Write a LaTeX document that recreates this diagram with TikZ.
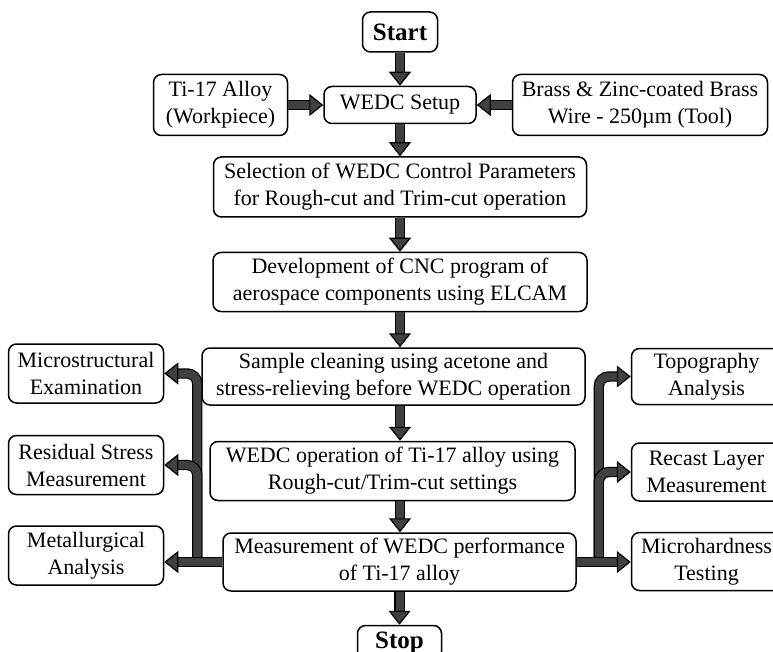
\documentclass[tikz,border=0pt]{standalone}
\usepackage{fontspec}
\setmainfont{Liberation Serif}
\usetikzlibrary{arrows.meta, positioning, calc}
\definecolor{arrowgray}{HTML}{404040}

\begin{document}
\begin{tikzpicture}[
    x=1pt, y=-1pt,
    node distance=33pt and 35pt,
    block/.style={rectangle, draw, rounded corners=8pt, line width=1.5pt, align=center, inner sep=2pt, font=\fontsize{22}{27}\selectfont},
    term/.style={block, font=\fontsize{25}{30}\selectfont\bfseries, minimum width=75pt, minimum height=40pt},
    side/.style={block, minimum width=155pt, minimum height=59pt},
    flow/.style={draw=black, line width=1.2pt, double=arrowgray, double distance=8pt, -{Triangle[width=22pt, length=14pt, line width=1.2pt, fill=arrowgray]}},
    fork/.style={coordinate}
]
\useasboundingbox (0,0) rectangle (773,652);
\clip (0,0) rectangle (773,652);

% Nodes
\node [term] (start) at (400,32) {Start};
\node [block, below=of start, minimum width=152pt, minimum height=37pt] (wedc-setup) {WEDC Setup};
\node [block, left=35pt of wedc-setup, minimum width=134pt, minimum height=61pt] (ti-alloy) {Ti-17 Alloy\\(Workpiece)};
\node [block, right=35pt of wedc-setup, minimum width=255pt, minimum height=61pt] (brass-wire) {Brass \& Zinc-coated Brass\\Wire - 250µm (Tool)};
\node [block, below=32pt of wedc-setup, minimum width=373pt, minimum height=60pt] (param-select) {Selection of WEDC Control Parameters\\for Rough-cut and Trim-cut operation};
\node [block, below=34pt of param-select, minimum width=374pt, minimum height=59pt] (cnc-program) {Development of CNC program of\\aerospace components using ELCAM};
\node [block, below=35pt of cnc-program, xshift=-6.5pt, minimum width=383pt, minimum height=57pt] (sample-clean) {Sample cleaning using acetone and\\stress-relieving before WEDC operation};
\node [block, below=35pt of sample-clean, xshift=-1pt, minimum width=365pt, minimum height=59pt] (wedc-op) {WEDC operation of Ti-17 alloy using\\Rough-cut/Trim-cut settings};
\node [block, below=31pt of wedc-op, xshift=7pt, minimum width=353pt, minimum height=58pt] (measure) {Measurement of WEDC performance\\of Ti-17 alloy};
\node [term, below=33pt of measure, minimum width=84pt, minimum height=34pt] (stop) {Stop};

\node [side, left=37pt of sample-clean, yshift=3pt] (micro-exam) {Microstructural\\Examination};
\node [side, below=31pt of micro-exam] (residual) {Residual Stress\\Measurement};
\node [side, below=30pt of residual] (metallurgy) {Metallurgical\\Analysis};
\node [side, right=45pt of sample-clean, minimum width=150pt, minimum height=56pt] (topography) {Topography\\Analysis};
\node [side, below=37pt of topography, minimum width=150pt, minimum height=58pt] (recast) {Recast Layer\\Measurement};
\node [side, below=30pt of recast, minimum width=150pt, minimum height=58pt] (microhardness) {Microhardness\\Testing};

\coordinate [fork] (left-fork) at ($(measure.west)+(-25,0)$);
\coordinate [fork] (right-fork) at ($(measure.east)+(22,0)$);

% Arrows
\draw[flow] (start) -- (wedc-setup);
\draw[flow] (ti-alloy) -- (wedc-setup);
\draw[flow] (brass-wire) -- (wedc-setup);
\draw[flow] (wedc-setup) -- (param-select);
\draw[flow] (param-select) -- (cnc-program);
\draw[flow] (cnc-program.south) -- (cnc-program.south |- sample-clean.north);
\draw[flow] (cnc-program.south |- sample-clean.south) -- (cnc-program.south |- wedc-op.north);
\draw[flow] (cnc-program.south |- wedc-op.south) -- (cnc-program.south |- measure.north);
\draw[flow] (measure.south) -- (measure.south |- stop.north);

\draw[flow, rounded corners=10pt] (left-fork) |- (micro-exam.east);
\draw[flow, rounded corners=10pt] (left-fork) |- (residual.east);
\draw[flow] (measure.west) -- (measure.west -| metallurgy.east);
\draw[flow, rounded corners=10pt] (right-fork) |- (topography.west);
\draw[flow, rounded corners=10pt] (right-fork) |- (recast.west);
\draw[flow] (measure.east) -- (measure.east -| microhardness.west);
\end{tikzpicture}
\end{document}
